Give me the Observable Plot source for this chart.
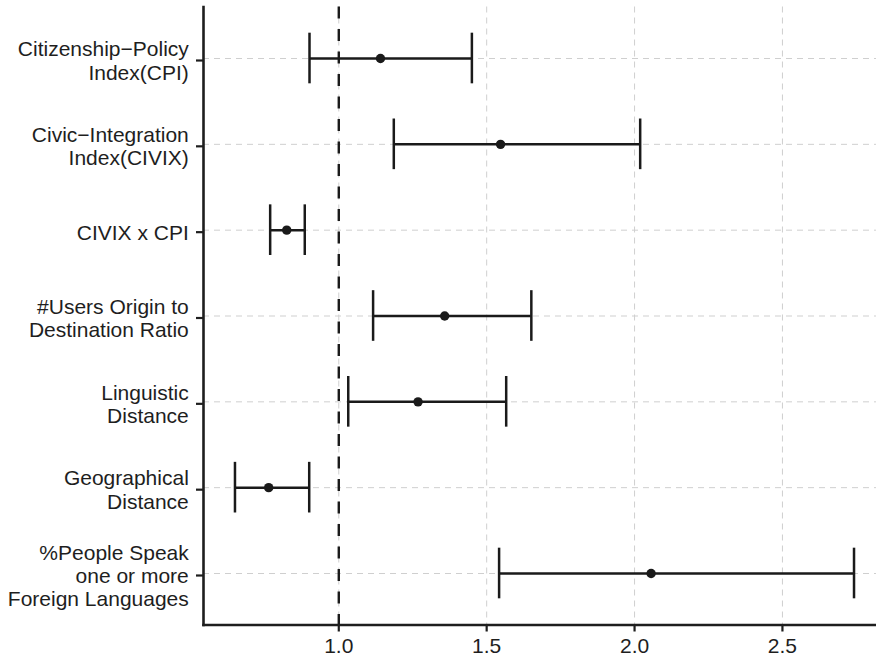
<!DOCTYPE html>
<html>
<head>
<meta charset="utf-8">
<script src="https://cdn.jsdelivr.net/npm/d3@7"></script>
<script src="https://cdn.jsdelivr.net/npm/@observablehq/plot@0.6"></script>
<style>
  html, body { margin: 0; padding: 0; background: #ffffff; }
  #chart svg { display: block; }
</style>
</head>
<body>
<div id="chart"></div>
<script>
// Categories (top to bottom)
const labels = [
  "Citizenship\u2212Policy\nIndex(CPI)",
  "Civic\u2212Integration\nIndex(CIVIX)",
  "CIVIX x CPI",
  "#Users Origin to\nDestination Ratio",
  "Linguistic\nDistance",
  "Geographical\nDistance",
  "%People Speak\none or more\nForeign Languages"
];
// Point estimates and interval bounds
const estimates = [1.141, 1.547, 0.824, 1.358, 1.268, 0.763, 2.056];
const lower     = [0.901, 1.186, 0.768, 1.116, 1.032, 0.649, 1.542];
const upper     = [1.450, 2.019, 0.885, 1.651, 1.566, 0.900, 2.742];
// Axis ticks
const xTicks = [1.0, 1.5, 2.0, 2.5];
const referenceValue = [1.0];
const xDomain = [0.5426, 2.818];

const data = labels.map((label, i) => ({label, est: estimates[i], lo: lower[i], hi: upper[i]}));

const ink = "#1a1a1a";
const gridColor = "#cfcfcf";

const chart = Plot.plot({
  width: 876,
  height: 658,
  marginTop: 6.5,
  marginBottom: 33.5,
  marginLeft: 203,
  marginRight: 0,
  style: {fontFamily: "'Liberation Sans', Arial, Helvetica, sans-serif", fontSize: "21px", color: "#1e1e1e", background: "#ffffff"},
  x: {domain: xDomain},
  y: {domain: labels, paddingInner: 0.41, paddingOuter: 0.305, align: 0.5, round: false},
  marks: [
    Plot.gridX(xTicks, {stroke: gridColor, strokeOpacity: 1, strokeWidth: 1, strokeDasharray: "6,5"}),
    Plot.gridY(labels, {stroke: gridColor, strokeOpacity: 1, strokeWidth: 1, strokeDasharray: "6,5"}),
    Plot.ruleX(referenceValue, {stroke: ink, strokeWidth: 2.4, strokeDasharray: "12,10.5"}),
    Plot.ruleY(data, {y: "label", x1: "lo", x2: "hi", stroke: ink, strokeWidth: 2.5}),
    Plot.tickX(data, {x: "lo", y: "label", stroke: ink, strokeWidth: 2.5}),
    Plot.tickX(data, {x: "hi", y: "label", stroke: ink, strokeWidth: 2.5}),
    Plot.dot(data, {x: "est", y: "label", r: 4.7, fill: ink}),
    Plot.axisX(xTicks, {tickSize: 7, tickPadding: 6.5, strokeWidth: 2.2, stroke: "#1e1e1e", tickFormat: d => d.toFixed(1), fontSize: 21, label: null}),
    Plot.axisY({tickSize: 7, tickPadding: 7.7, strokeWidth: 2.2, stroke: "#1e1e1e", lineHeight: 1.11, fontSize: 21, dy: 2, label: null, tickFormat: d => d}),
    Plot.frame({anchor: "left", stroke: "#1e1e1e", strokeWidth: 2.6}),
    Plot.frame({anchor: "bottom", stroke: "#1e1e1e", strokeWidth: 2.6})
  ]
});
document.getElementById("chart").appendChild(chart);
</script>
</body>
</html>
